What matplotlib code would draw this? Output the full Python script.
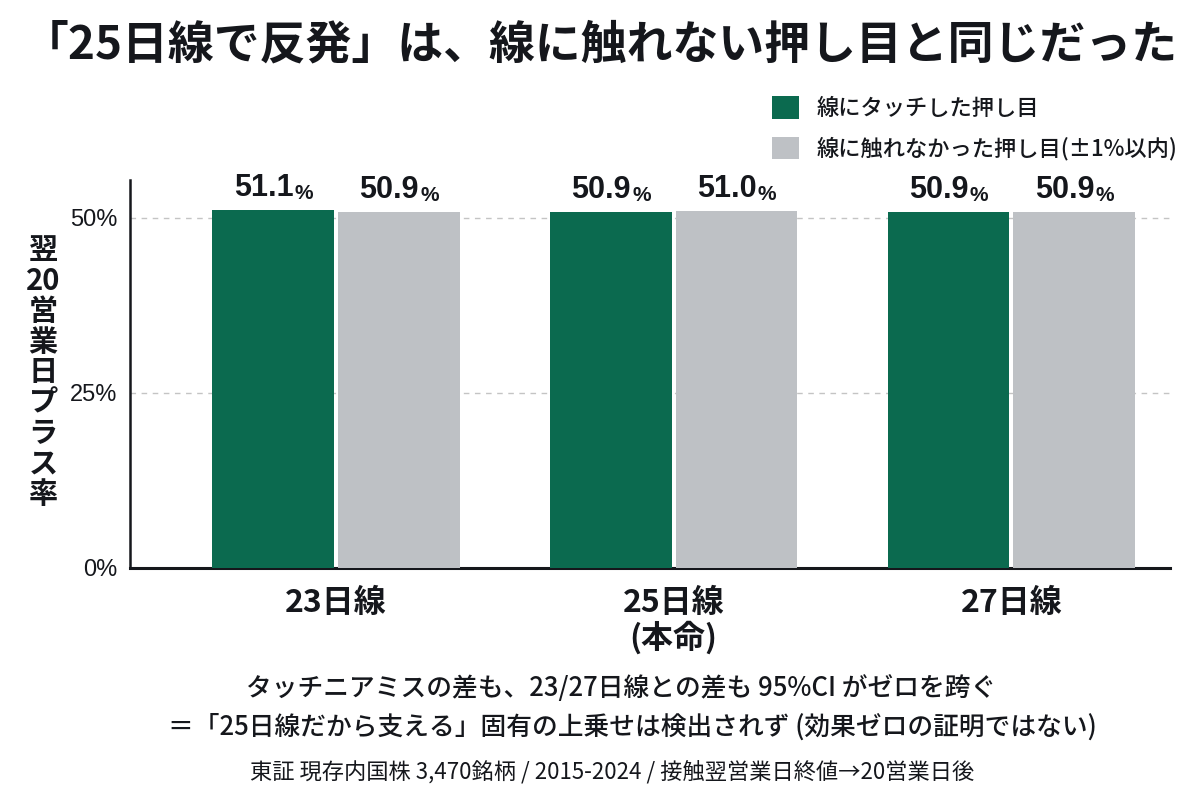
import matplotlib
matplotlib.use("Agg")
import matplotlib.pyplot as plt
import numpy as np

plt.rcParams['font.family'] = ['Noto Sans CJK JP', 'DejaVu Sans']

categories = ['23日線', '25日線\n(本命)', '27日線']
touch = [51.1, 50.9, 50.9]
miss = [50.9, 51.0, 50.9]
series_names = ['線にタッチした押し目', '線に触れなかった押し目(±1%以内)']
yticks = [0, 25, 50]
ytick_labels = ['0%', '25%', '50%']

title = '「25日線で反発」は、線に触れない押し目と同じだった'
ylabel = '翌\n20\n営\n業\n日\nプ\nラ\nス\n率'
note1 = 'タッチニアミスの差も、23/27日線との差も 95%CI がゼロを跨ぐ'
note2 = '＝「25日線だから支える」固有の上乗せは検出されず (効果ゼロの証明ではない)'
footer = '東証 現存内国株 3,470銘柄 / 2015-2024 / 接触翌営業日終値→20営業日後'

GREEN = '#0b6a4f'
GRAY = '#bec1c5'
TXT = '#15171c'

fig = plt.figure(figsize=(12, 8), dpi=100)
ax = fig.add_axes([0.1083, 0.29, 0.8667, 0.485])

x = np.arange(len(categories))
w = 0.36
gap = 0.006
b1 = ax.bar(x - w / 2 - gap, touch, w, color=GREEN, zorder=3, label=series_names[0])
b2 = ax.bar(x + w / 2 + gap, miss, w, color=GRAY, zorder=3, label=series_names[1])

for bars, vals in ((b1, touch), (b2, miss)):
    for r, v in zip(bars, vals):
        cx = r.get_x() + r.get_width() / 2
        t = ax.annotate(f'{v:.1f}', xy=(cx, v), xytext=(-7, 5), textcoords='offset points',
                        ha='center', va='bottom', fontsize=22, fontweight='bold', color=TXT,
                        family=['Liberation Sans', 'DejaVu Sans'])
        ax.annotate('%', xy=(1, 0), xycoords=t, xytext=(1, 0), textcoords='offset points',
                    ha='left', va='bottom', fontsize=15, fontweight='bold', color=TXT,
                    family=['Liberation Sans', 'DejaVu Sans'])

ax.set_xlim(-0.61, 2.47)
ax.set_ylim(0, 55.4)
ax.set_yticks(yticks)
ax.set_yticklabels(ytick_labels, fontsize=17, color=TXT, family=['Liberation Sans', 'DejaVu Sans'])
ax.set_xticks(x)
ax.set_xticklabels(categories, fontsize=23, fontweight='bold', color=TXT, linespacing=1.05)
ax.tick_params(axis='both', length=0, pad=9)
ax.tick_params(axis='x', pad=14)
ax.yaxis.grid(True, linestyle=(0, (4, 4)), color='#c4c4c4', linewidth=1, zorder=0)
for s in ('top', 'right'):
    ax.spines[s].set_visible(False)
ax.spines['left'].set_linewidth(1.8)
ax.spines['bottom'].set_linewidth(2.2)
ax.spines['left'].set_color(TXT)
ax.spines['bottom'].set_color(TXT)

fig.text(0.036, 0.535, ylabel, ha='center', va='center', fontsize=21, fontweight='bold',
         color=TXT, linespacing=1.02)

fig.text(0.5, 0.943, title, ha='center', va='center', fontsize=33, fontweight='bold', color=TXT)

leg = fig.legend(handles=[b1, b2], labels=series_names, loc='upper left',
                 bbox_to_anchor=(0.627, 0.905), frameon=False, fontsize=16,
                 handlelength=1.2, handleheight=1.2, handletextpad=0.8, labelspacing=0.75)
for t in leg.get_texts():
    t.set_color(TXT)
    t.set_fontweight('medium')

fig.text(0.518, 0.139, note1, ha='center', va='center', fontsize=18.5, fontweight='medium', color=TXT)
fig.text(0.527, 0.091, note2, ha='center', va='center', fontsize=18.5, fontweight='medium', color=TXT)
fig.text(0.51, 0.034, footer, ha='center', va='center', fontsize=16, color=TXT)

fig.savefig('out.png', dpi=100, facecolor='white')
